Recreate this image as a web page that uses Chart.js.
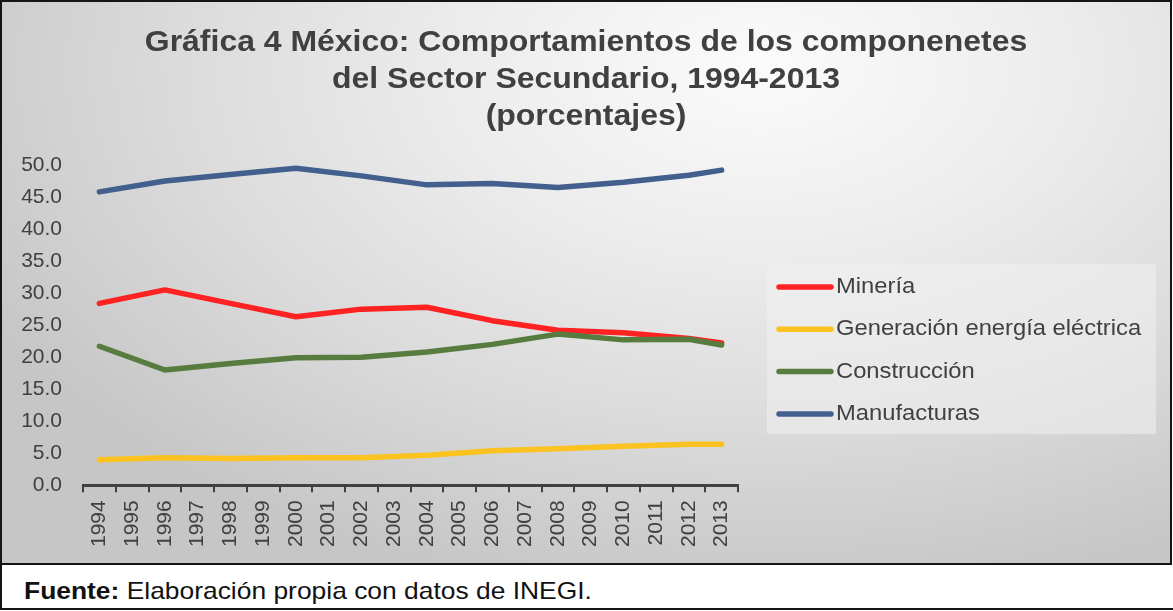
<!DOCTYPE html>
<html>
<head>
<meta charset="utf-8">
<script src="https://cdn.jsdelivr.net/npm/chart.js@4.4.1/dist/chart.umd.min.js"></script>
<style>
  body { margin: 0; background: #ffffff; font-family: "Liberation Sans", Arial, sans-serif; }
  #wrap { position: relative; width: 1173px; height: 611px; background: #ffffff; overflow: hidden; }
  #box {
    position: absolute; left: 0; top: 0; width: 1172px; height: 565px;
    box-sizing: border-box; border: 2px solid #151515;
    background: radial-gradient(ellipse 75% 95% at 65% 12%, #fbfbfb 0%, #ececec 35%, #dcdcdc 65%, #c6c6c6 100%);
  }
  #foot {
    position: absolute; left: 0; top: 565px; width: 1173px; height: 45px;
    box-sizing: border-box; border-left: 2px solid #151515; border-bottom: 2px solid #151515;
    color: #111;
  }
  #foot span {
    position: absolute; left: 22px; top: 12px; font-size: 24px; line-height: 28px; white-space: nowrap;
    transform: scaleX(1.1); transform-origin: left center;
  }
</style>
</head>
<body>
<div id="wrap">
  <div id="box"><canvas id="chart" width="1168" height="561"></canvas></div>
  <div id="foot"><span><b>Fuente:</b> Elaboración propia con datos de INEGI.</span></div>
</div>
<script>
var years = ['1994','1995','1996','1997','1998','1999','2000','2001','2002','2003','2004','2005','2006','2007','2008','2009','2010','2011','2012','2013'];
// valores (solo años pares y 2013)
var mineria      = [28.4, null, 30.5, null, 28.4, null, 26.3, null, 27.5, null, 27.8, null, 25.7, null, 24.2, null, 23.8, null, 22.9, 22.2];
var generacion   = [4.0, null, 4.3, null, 4.2, null, 4.3, null, 4.3, null, 4.7, null, 5.4, null, 5.7, null, 6.1, null, 6.4, 6.4];
var construccion = [21.7, null, 18.0, null, 19.0, null, 19.9, null, 20.0, null, 20.8, null, 22.0, null, 23.6, null, 22.7, null, 22.8, 21.9];
var manufacturas = [45.8, null, 47.5, null, 48.5, null, 49.5, null, 48.3, null, 46.9, null, 47.1, null, 46.5, null, 47.3, null, 48.4, 49.2];
var seriesNames  = ['Minería', 'Generación energía eléctrica', 'Construcción', 'Manufacturas'];
var seriesColors = ['#ff2222', '#fcc21f', '#587c3f', '#435f8e'];
var titleLines   = ['Gráfica 4 México: Comportamientos de los componenetes', 'del Sector Secundario, 1994-2013', '(porcentajes)'];

var txtColor = '#404040';
var fontFam = '"Liberation Sans", Arial, sans-serif';

function makeSet(i, data, order) {
    return {
        label: seriesNames[i],
        data: data,
        borderColor: seriesColors[i],
        backgroundColor: seriesColors[i],
        borderWidth: 5.5,
        borderCapStyle: 'round',
        borderJoinStyle: 'round',
        pointRadius: 0,
        pointHoverRadius: 0,
        spanGaps: true,
        tension: 0,
        fill: false,
        order: order
    };
}

// texto algo ensanchado, como en la imagen original
function wideText(ctx, text, x, y, sx, align) {
    ctx.save();
    ctx.translate(x, y);
    ctx.scale(sx, 1);
    ctx.textAlign = align;
    ctx.fillText(text, 0, 0);
    ctx.restore();
}

// titulo centrado sobre todo el lienzo
var titleBlock = {
    id: 'titleBlock',
    afterDraw: function(chart) {
        var ctx = chart.ctx;
        ctx.save();
        ctx.fillStyle = txtColor;
        ctx.font = 'bold 30px ' + fontFam;
        ctx.textBaseline = 'middle';
        for (var i = 0; i < titleLines.length; i++) {
            wideText(ctx, titleLines[i], chart.width / 2, 41 + i * 37, 1.065, 'center');
        }
        ctx.restore();
    }
};

// leyenda dibujada a mano a la derecha
var legendBox = {
    id: 'legendBox',
    afterDraw: function(chart) {
        var ctx = chart.ctx;
        var a = chart.chartArea;
        var x0 = a.right + 29;
        var y0 = 262;
        ctx.save();
        ctx.fillStyle = 'rgba(240,240,240,0.55)';
        ctx.fillRect(x0, y0, 389, 170);
        ctx.font = '22px ' + fontFam;
        ctx.textBaseline = 'middle';
        ctx.lineCap = 'round';
        for (var i = 0; i < seriesNames.length; i++) {
            var y = y0 + 23 + i * 42.3;
            ctx.strokeStyle = seriesColors[i];
            ctx.lineWidth = 5.5;
            ctx.beginPath();
            ctx.moveTo(x0 + 12, y);
            ctx.lineTo(x0 + 64, y);
            ctx.stroke();
            ctx.fillStyle = txtColor;
            wideText(ctx, seriesNames[i], x0 + 69, y, 1.08, 'left');
        }
        ctx.restore();
    }
};

var SecundarioChart = new Chart(document.getElementById('chart').getContext('2d'), {
    type: 'line',
    data: {
        labels: years,
        datasets: [
            makeSet(0, mineria, 2),
            makeSet(1, generacion, 3),
            makeSet(2, construccion, 1),
            makeSet(3, manufacturas, 4)
        ]
    },
    options: {
        responsive: false,
        animation: false,
        devicePixelRatio: 1,
        layout: { padding: { left: 16, right: 432, top: 163, bottom: 8 } },
        plugins: {
            legend: { display: false },
            tooltip: { enabled: false },
            title: { display: false }
        },
        scales: {
            x: {
                offset: true,
                grid: { display: true, drawOnChartArea: false, drawTicks: true, tickLength: 7, offset: true, color: txtColor, lineWidth: 2 },
                border: { display: true, color: txtColor, width: 3 },
                ticks: { color: txtColor, font: { family: fontFam, size: 21 }, minRotation: 90, maxRotation: 90, autoSkip: false, padding: 8 }
            },
            y: {
                min: 0,
                max: 50,
                grid: { display: false, drawTicks: false },
                border: { display: false },
                afterFit: function(scale) { scale.width = 65; },
                ticks: {
                    stepSize: 5,
                    color: txtColor,
                    padding: 21,
                    font: { family: fontFam, size: 21 },
                    callback: function(v) { return Number(v).toFixed(1); }
                }
            }
        }
    },
    plugins: [titleBlock, legendBox]
});
</script>
</body>
</html>
